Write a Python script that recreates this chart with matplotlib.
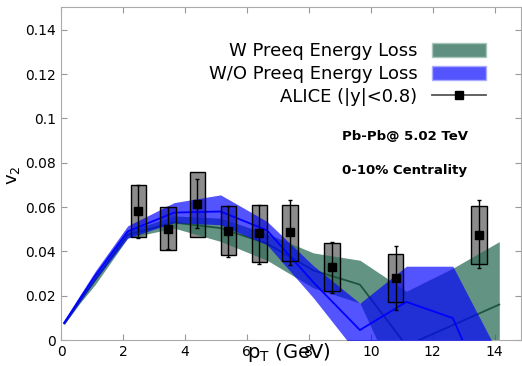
import matplotlib
matplotlib.use("Agg")
import matplotlib.pyplot as plt
import numpy as np
from matplotlib.patches import Patch, Rectangle
from matplotlib.lines import Line2D

# ---- model bands ----
pt_grid = [0.1, 0.6, 1.1, 2.15, 3.65, 5.15, 6.65, 8.15, 9.65, 11.15, 12.65, 14.15]

w_top = [0.008, 0.0185, 0.029, 0.049, 0.056, 0.055, 0.048, 0.0393, 0.036, 0.022, 0.0324, 0.0444]
w_mid = [0.0075, 0.0175, 0.027, 0.0475, 0.053, 0.0505, 0.0435, 0.0314, 0.025, -0.0025, 0.0067, 0.016]
w_bot = [0.007, 0.0165, 0.025, 0.046, 0.0505, 0.0445, 0.036, 0.0235, 0.0167, -0.029, -0.02, -0.012]

wo_top = [0.0085, 0.020, 0.031, 0.0515, 0.062, 0.0655, 0.0535, 0.0335, 0.0166, 0.0333, 0.0333, -0.007]
wo_mid = [0.0078, 0.0185, 0.029, 0.049, 0.0575, 0.058, 0.0495, 0.026, 0.0045, 0.0172, 0.0099, -0.038]
wo_bot = [0.007, 0.017, 0.027, 0.046, 0.053, 0.052, 0.043, 0.019, -0.0076, -0.005, -0.013, -0.07]

# ---- ALICE data ----
alice_pt = [2.5, 3.45, 4.4, 5.4, 6.4, 7.4, 8.75, 10.8, 13.5]
alice_v2 = [0.0582, 0.0503, 0.0613, 0.0491, 0.0483, 0.0487, 0.0329, 0.0279, 0.0476]
alice_sys_lo = [0.0465, 0.0406, 0.0465, 0.0384, 0.0350, 0.0358, 0.0221, 0.0172, 0.0344]
alice_sys_hi = [0.0700, 0.0600, 0.0758, 0.0603, 0.0608, 0.0610, 0.0438, 0.0390, 0.0606]
alice_err_lo = [0.0460, 0.0410, 0.0505, 0.0375, 0.0345, 0.0339, 0.0212, 0.0137, 0.0325]
alice_err_hi = [0.0700, 0.0600, 0.0727, 0.0603, 0.0610, 0.0634, 0.0444, 0.0426, 0.0632]

xticks = [0, 2, 4, 6, 8, 10, 12, 14]
yticks = [0, 0.02, 0.04, 0.06, 0.08, 0.1, 0.12, 0.14]
ytick_labels = ["0", "0.02", "0.04", "0.06", "0.08", "0.1", "0.12", "0.14"]

green_fc = "#2F6F5A"
green_line = "#1d5540"
blue_fc = "#0000ff"

fig = plt.figure(figsize=(5.22, 3.66), dpi=100)
ax = fig.add_axes([0.117, 0.071, 0.881, 0.91])

# systematic boxes (under bands)
box_w = 0.5
for x, lo, hi in zip(alice_pt, alice_sys_lo, alice_sys_hi):
    ax.add_patch(Rectangle((x - box_w / 2, lo), box_w, hi - lo,
                           facecolor="#8c8c8c", edgecolor="none", zorder=1))

ax.fill_between(pt_grid, w_bot, w_top, color=green_fc, alpha=0.75, lw=0, zorder=2)
ax.plot(pt_grid, w_mid, color=green_line, lw=1.3, zorder=3)
ax.fill_between(pt_grid, wo_bot, wo_top, color=blue_fc, alpha=0.67, lw=0, zorder=4)
ax.plot(pt_grid, wo_mid, color=blue_fc, lw=1.3, zorder=5)

for x, lo, hi in zip(alice_pt, alice_sys_lo, alice_sys_hi):
    ax.add_patch(Rectangle((x - box_w / 2, lo), box_w, hi - lo,
                           facecolor="none", edgecolor="black", lw=1.0, zorder=6))

v2 = np.array(alice_v2)
yerr = [v2 - np.array(alice_err_lo), np.array(alice_err_hi) - v2]
ax.errorbar(alice_pt, alice_v2, yerr=yerr, fmt="s", color="black", ms=6,
            ecolor="black", elinewidth=1.0, capsize=1.5, zorder=7)

ax.set_xlim(0, 14.85)
ax.set_ylim(0, 0.1503)
ax.set_xticks(xticks)
ax.set_yticks(yticks)
ax.set_yticklabels(ytick_labels)
ax.tick_params(direction="in", top=True, right=True, labelsize=10, color="#999999",
               length=4)
for s in ax.spines.values():
    s.set_color("#aaaaaa")

ax.set_xlabel(r"$\mathregular{p_T}$ (GeV)", fontsize=14)
ax.xaxis.set_label_coords(0.495, -0.004)
ax.set_ylabel(r"$\mathregular{v_2}$", fontsize=13)
ax.yaxis.set_label_coords(-0.085, 0.495)

handles = [Patch(facecolor="#5f8f80", edgecolor="#a9c6bc"),
           Patch(facecolor="#5555ff", edgecolor="#aaaaff"),
           Line2D([], [], color="#555555", marker="s", mfc="black", mec="black", ms=6, lw=1.3)]
labels = ["W Preeq Energy Loss", "W/O Preeq Energy Loss", "ALICE (|y|<0.8)"]
ax.legend(handles, labels, loc="upper right", frameon=False, fontsize=13,
          markerfirst=False, handlelength=3.0, handleheight=0.8, labelspacing=0.25,
          bbox_to_anchor=(0.94, 0.915), borderaxespad=0)

ax.text(11.1, 0.0917, "Pb-Pb@ 5.02 TeV", fontsize=9.5, fontweight="bold",
        ha="center", va="center")
ax.text(11.1, 0.0763, "0-10% Centrality", fontsize=9.5, fontweight="bold",
        ha="center", va="center")

fig.savefig("out.png", dpi=100)
